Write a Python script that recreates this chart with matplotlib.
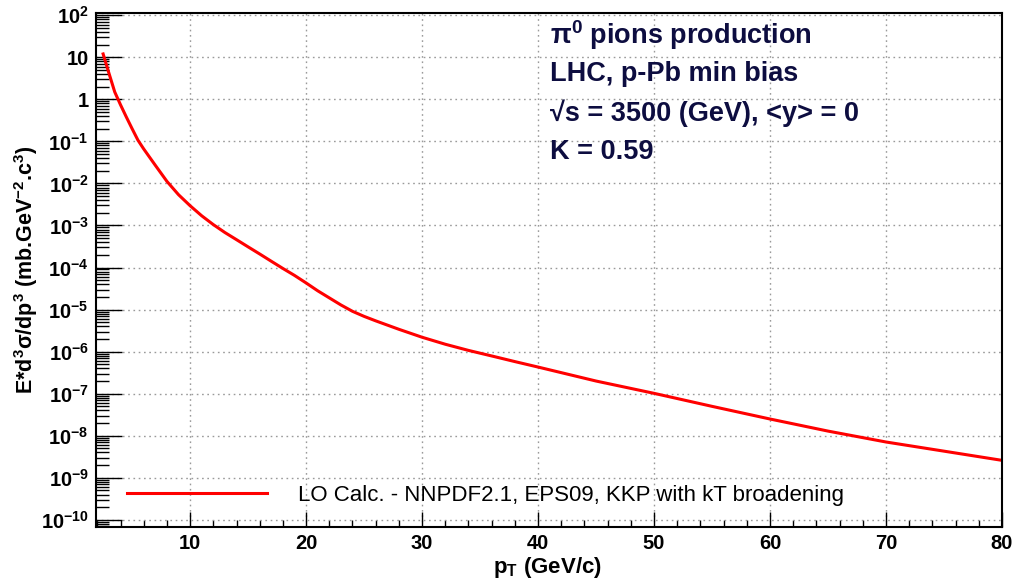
import numpy as np
import matplotlib
matplotlib.use("Agg")
import matplotlib.pyplot as plt
from matplotlib.ticker import FixedLocator, LogLocator, NullFormatter, FuncFormatter

# pT (GeV/c) and invariant cross section
pt = [2.5, 3.0, 3.5, 4.0, 4.5, 5.0, 5.5, 6.0, 7.0, 8.0, 9.0, 10.0, 11.0, 12.0,
      13.0, 14.0, 15.0, 16.0, 17.0, 18.0, 19.0, 20.0, 21.0, 22.0, 23.0, 24.0,
      25.0, 26.0, 28.0, 30.0, 32.0, 34.0, 36.0, 38.0, 40.0, 45.0, 50.0, 55.0,
      60.0, 65.0, 70.0, 75.0, 80.0]
xsec = [12.0, 4.2, 1.5, 0.74, 0.38, 0.20, 0.107, 0.066, 0.027, 0.0112, 5.4e-3,
        2.95e-3, 1.7e-3, 1.05e-3, 6.8e-4, 4.6e-4, 3.1e-4, 2.1e-4, 1.41e-4,
        9.5e-5, 6.5e-5, 4.3e-5, 2.8e-5, 1.9e-5, 1.29e-5, 9.1e-6, 6.9e-6, 5.4e-6,
        3.4e-6, 2.2e-6, 1.5e-6, 1.07e-6, 7.9e-7, 5.8e-7, 4.3e-7, 2.0e-7, 1.02e-7,
        5.0e-8, 2.5e-8, 1.29e-8, 7.1e-9, 4.3e-9, 2.6e-9]

x_major = [10, 20, 30, 40, 50, 60, 70, 80]
y_decades = list(range(-10, 3))

legend_label = "LO Calc. - NNPDF2.1, EPS09, KKP with kT broadening"
info_lines = [
    "π$^{0}$ pions production",
    "LHC, p-Pb min bias",
    "√s = 3500 (GeV), <y> = 0",
    "K = 0.59",
]

plt.rcParams["font.family"] = ["Liberation Sans", "DejaVu Sans"]
plt.rcParams["mathtext.fontset"] = "custom"
plt.rcParams["mathtext.rm"] = "Liberation Sans:bold"
plt.rcParams["mathtext.bf"] = "Liberation Sans:bold"
plt.rcParams["mathtext.default"] = "bf"

W, H = 1018, 587
fig = plt.figure(figsize=(W / 100, H / 100), dpi=100)
ax = fig.add_axes([95.7 / W, 1 - 527 / H, (1002 - 95.7) / W, (527 - 12.7) / H])

ax.plot(pt, xsec, color="#ff0000", lw=2.2, label=legend_label)

ax.set_yscale("log")
ax.set_xlim(1.86, 80)
ax.set_ylim(10 ** -10.17, 10 ** 2.06)

ax.xaxis.set_major_locator(FixedLocator(x_major))
ax.xaxis.set_minor_locator(FixedLocator(np.arange(2, 81, 2)))
ax.yaxis.set_major_locator(FixedLocator([10.0 ** d for d in y_decades]))
ax.yaxis.set_minor_locator(LogLocator(base=10, subs=np.arange(2, 10), numticks=30))
ax.yaxis.set_minor_formatter(NullFormatter())


def ylab(v, pos):
    e = int(round(np.log10(v)))
    if e == 0:
        return "1"
    if e == 1:
        return "10"
    return r"$10^{%d}$" % e


ax.yaxis.set_major_formatter(FuncFormatter(ylab))
ax.tick_params(axis="both", which="both", direction="in", color="black", width=1)
ax.tick_params(axis="x", which="major", length=11, labelsize=14.5, pad=5)
ax.tick_params(axis="x", which="minor", length=5)
ax.tick_params(axis="y", which="major", length=19, labelsize=14.5, pad=5)
ax.tick_params(axis="y", which="minor", length=9)
for lab in ax.get_xticklabels() + ax.get_yticklabels():
    lab.set_fontweight("bold")

ax.grid(True, which="major", color="#9a9a9a", linestyle=(0, (1.2, 2.6)), lw=1)
for s in ax.spines.values():
    s.set_linewidth(1.5)

ax.set_ylabel(r"E*d$^{3}$σ/dp$^{3}$ (mb.GeV$^{-2}$.c$^{3}$)", fontsize=15.5,
              fontweight="bold")
ax.yaxis.set_label_coords(-0.0615, 0.5)
fig.text(493 / W, 1 - 568 / H, r"p$_{T}$ (GeV/c)", fontsize=16,
         fontweight="bold", ha="left", va="center")

for i, line in enumerate(info_lines):
    fig.text(550 / W, 1 - (35 + 39 * i) / H, line, fontsize=19.5, fontweight="bold",
             color="#0d0d40", ha="left", va="center")

ax.legend(loc="center left", bbox_to_anchor=(0.012, 0.062), frameon=False,
          fontsize=16, handlelength=6.3, handletextpad=1.4)

fig.savefig("out.png", dpi=100)
